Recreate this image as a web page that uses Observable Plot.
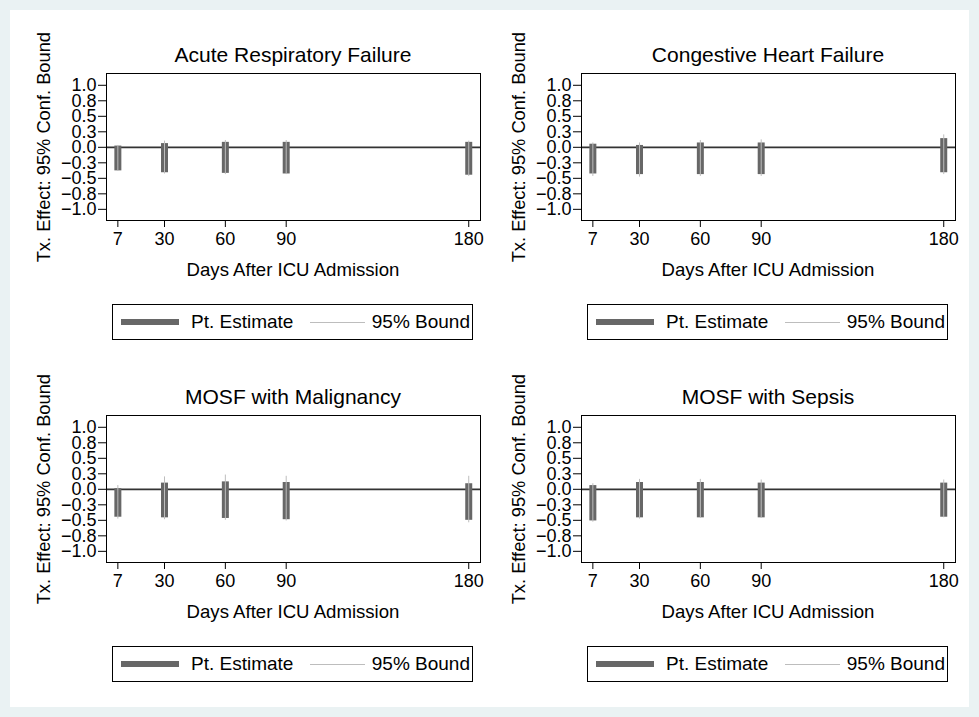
<!DOCTYPE html>
<html>
<head>
<meta charset="utf-8">
<script src="https://cdn.jsdelivr.net/npm/d3@7"></script>
<script src="https://cdn.jsdelivr.net/npm/@observablehq/plot@0.6"></script>
<style>
  html, body { margin: 0; padding: 0; background: #eaf2f3; }
  #root { position: relative; width: 979px; height: 717px; background: #eaf2f3; font-family: "Liberation Sans", Arial, sans-serif; color: #000; overflow: hidden; }
  #inner { position: absolute; left: 10px; top: 10px; width: 959px; height: 697px; background: #ffffff; }
  .abs { position: absolute; white-space: nowrap; line-height: 1; }
</style>
</head>
<body>
<div id="root"><div id="inner"></div></div>
<script>
// ---- data ----
const days = [7, 30, 60, 90, 180];
const yTicks = [-1, -0.75, -0.5, -0.25, 0, 0.25, 0.5, 0.75, 1];
const panelTitles = ["Acute Respiratory Failure", "Congestive Heart Failure", "MOSF with Malignancy", "MOSF with Sepsis"];
const xTitle = "Days After ICU Admission";
const yTitle = "Tx. Effect: 95% Conf. Bound";
const legendLabels = ["Pt. Estimate", "95% Bound"];

// thick bar (point estimate band) and thin line (95% bound), per panel
const arfEstHi = [0.02, 0.06, 0.08, 0.08, 0.08];
const arfEstLo = [-0.38, -0.41, -0.42, -0.43, -0.45];
const arfCiHi  = [0.03, 0.10, 0.11, 0.11, 0.10];
const arfCiLo  = [-0.39, -0.43, -0.44, -0.44, -0.47];

const chfEstHi = [0.05, 0.03, 0.07, 0.07, 0.14];
const chfEstLo = [-0.43, -0.44, -0.44, -0.44, -0.41];
const chfCiHi  = [0.07, 0.07, 0.11, 0.12, 0.20];
const chfCiLo  = [-0.47, -0.48, -0.47, -0.47, -0.44];

const malEstHi = [0.01, 0.10, 0.12, 0.11, 0.09];
const malEstLo = [-0.45, -0.46, -0.47, -0.49, -0.50];
const malCiHi  = [0.06, 0.20, 0.23, 0.21, 0.21];
const malCiLo  = [-0.48, -0.49, -0.50, -0.51, -0.54];

const sepEstHi = [0.06, 0.11, 0.11, 0.10, 0.10];
const sepEstLo = [-0.51, -0.46, -0.46, -0.46, -0.45];
const sepCiHi  = [0.09, 0.16, 0.16, 0.15, 0.15];
const sepCiLo  = [-0.53, -0.48, -0.47, -0.47, -0.46];

const panels = [
  {title: panelTitles[0], estHi: arfEstHi, estLo: arfEstLo, ciHi: arfCiHi, ciLo: arfCiLo},
  {title: panelTitles[1], estHi: chfEstHi, estLo: chfEstLo, ciHi: chfCiHi, ciLo: chfCiLo},
  {title: panelTitles[2], estHi: malEstHi, estLo: malEstLo, ciHi: malCiHi, ciLo: malCiLo},
  {title: panelTitles[3], estHi: sepEstHi, estLo: sepEstLo, ciHi: sepCiHi, ciLo: sepCiLo}
];

// ---- drawing ----
const root = document.getElementById("root");
const FONT = "Liberation Sans, Arial, sans-serif";
const barColor = "#676767";
const boundColor = "#bdbdbd";

function addText(txt, opts) {
  const d = document.createElement("div");
  d.className = "abs";
  d.textContent = txt;
  Object.assign(d.style, opts);
  root.appendChild(d);
  return d;
}

const fmt = d => (d < 0 ? "\u2212" : "") + Math.abs(d).toFixed(1);

panels.forEach((p, i) => {
  const ox = (i % 2) * 475;
  const oy = Math.floor(i / 2) * 342;
  const rows = days.map((d, j) => ({day: d, estHi: p.estHi[j], estLo: p.estLo[j], ciHi: p.ciHi[j], ciLo: p.ciLo[j]}));

  const chart = Plot.plot({
    width: 490,
    height: 260,
    marginLeft: 106,
    marginRight: 10,
    marginTop: 43,
    marginBottom: 70,
    style: {background: "transparent", fontFamily: FONT, fontSize: "18px", color: "#000"},
    x: {domain: [1.4, 185.8], ticks: days, tickFormat: d => String(d), tickSize: 7, tickPadding: 5, label: null},
    y: {domain: [-1.18, 1.19], ticks: yTicks, tickFormat: fmt, tickSize: 8, tickPadding: 2, label: null},
    marks: [
      Plot.ruleY([0], {stroke: "#333333", strokeWidth: 1.8}),
      Plot.ruleX(rows, {x: "day", y1: "estLo", y2: "estHi", stroke: barColor, strokeWidth: 7}),
      Plot.ruleX(rows, {x: "day", y1: "ciLo", y2: "ciHi", stroke: boundColor, strokeWidth: 1}),
      Plot.frame({stroke: "#000", strokeWidth: 1})
    ]
  });
  const wrap = document.createElement("div");
  wrap.style.position = "absolute";
  wrap.style.left = ox + "px";
  wrap.style.top = (oy + 30) + "px";
  wrap.style.width = "490px";
  wrap.style.height = "260px";
  wrap.appendChild(chart);
  root.appendChild(wrap);

  const cx = ox + 293;
  // title
  addText(p.title, {left: (cx - 200) + "px", width: "400px", textAlign: "center", top: (oy + 44) + "px", fontSize: "21px"});
  // x title
  addText(xTitle, {left: (cx - 200) + "px", width: "400px", textAlign: "center", top: (oy + 261) + "px", fontSize: "18.6px"});
  // y title (rotated)
  addText(yTitle, {left: (ox + 44 - 150) + "px", width: "300px", textAlign: "center", top: (oy + 147 - 9) + "px", fontSize: "18.3px", transform: "rotate(-90deg)", transformOrigin: "50% 50%"});

  // legend
  const lg = document.createElement("div");
  Object.assign(lg.style, {position: "absolute", left: (ox + 112) + "px", top: (oy + 304) + "px", width: "359px", height: "34px", border: "1px solid #000", background: "#fff"});
  root.appendChild(lg);
  const sw1 = document.createElement("div");
  Object.assign(sw1.style, {position: "absolute", left: (ox + 121) + "px", top: (oy + 319) + "px", width: "58px", height: "6px", background: barColor});
  root.appendChild(sw1);
  const sw2 = document.createElement("div");
  Object.assign(sw2.style, {position: "absolute", left: (ox + 310) + "px", top: (oy + 322) + "px", width: "55px", height: "1px", background: boundColor});
  root.appendChild(sw2);
  addText(legendLabels[0], {left: (ox + 191) + "px", top: (oy + 312) + "px", fontSize: "19px"});
  addText(legendLabels[1], {left: (ox + 270) + "px", width: "200px", textAlign: "right", top: (oy + 312) + "px", fontSize: "19px"});
});
</script>
</body>
</html>
